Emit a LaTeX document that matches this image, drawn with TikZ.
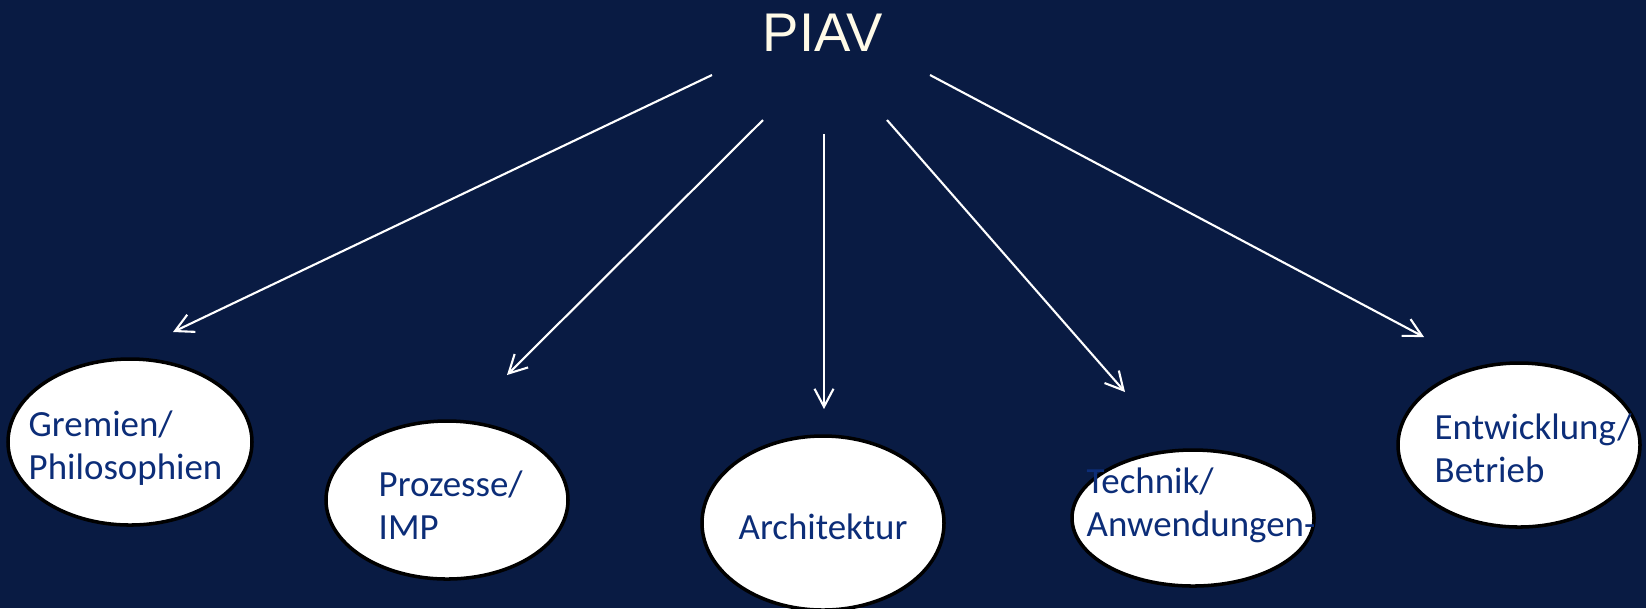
\documentclass[tikz,border=0pt]{standalone}
\usepackage{fontspec}
\setmainfont{Carlito}
\newfontfamily\piavfont{Liberation Sans}
\usetikzlibrary{shapes.geometric,arrows.meta,positioning,calc}

\definecolor{navybg}{RGB}{9,27,67}
\definecolor{labelblue}{RGB}{12,45,120}
\definecolor{piavcream}{RGB}{255,251,232}

\begin{document}
\begin{tikzpicture}[topic/.style={draw=black, line width=1pt, fill=white, ellipse, inner sep=0pt},
    label/.style={anchor=west, align=left, inner sep=0pt, text=labelblue, font=\fontsize{10.5}{12.3}\selectfont},
    arrow/.style={draw=white, line width=0.6pt, -{Straight Barb[length=1.8mm, width=1.9mm]}}]

        % background
        \fill [navybg] (0,0) rectangle (16.46,-6.08);
        \useasboundingbox (0,0) rectangle (16.46,-6.08);

        % PIAV
        \node (PIAV) at (8.23,-0.33) {\piavfont\fontsize{15.5}{18}\selectfont\color{piavcream}PIAV};

        % Gremien
        \node [topic, minimum width=2.44cm, minimum height=1.66cm] (Gremien) at (1.30,-4.42) {};
        \node [label] (Gremien_text) at (0.28,-4.48) {Gremien/\\Philosophien};

        % Prozesse
        \node [topic, minimum width=2.42cm, minimum height=1.58cm] (Prozesse) at (4.47,-5.00) {};
        \node [label] (Prozesse_text) at (3.78,-5.05) {Prozesse/\\IMP};

        % Architektur
        \node [topic, minimum width=2.42cm, minimum height=1.74cm] (Architektur) at (8.23,-5.23) {};
        \node [label] (Architektur_text) at (7.38,-5.27) {Architektur};

        % Technik
        \node [topic, minimum width=2.42cm, minimum height=1.36cm] (Technik) at (11.93,-5.18) {};
        \node [label] (Technik_text) at (10.86,-5.05) {Technik/\\Anwendungen-};

        % Entwicklung
        \node [topic, minimum width=2.42cm, minimum height=1.64cm] (Entwicklung) at (15.19,-4.45) {};
        \node [label] (Entwicklung_text) at (14.34,-4.48) {Entwicklung/\\Betrieb};

        % arrow ends
        \coordinate (PIAV_gremien) at (7.12,-0.75);
        \coordinate (Gremien_in) at (1.73,-3.32);
        \coordinate (PIAV_prozesse) at (7.63,-1.20);
        \coordinate (Prozesse_in) at (5.07,-3.75);
        \coordinate (PIAV_architektur) at (8.24,-1.34);
        \coordinate (Architektur_in) at (8.24,-4.09);
        \coordinate (PIAV_technik) at (8.87,-1.20);
        \coordinate (Technik_in) at (11.25,-3.92);
        \coordinate (PIAV_entwicklung) at (9.30,-0.75);
        \coordinate (Entwicklung_in) at (14.24,-3.37);

        % Arrows
        \draw [arrow] (PIAV_gremien) -- (Gremien_in);
        \draw [arrow] (PIAV_prozesse) -- (Prozesse_in);
        \draw [arrow] (PIAV_architektur) -- (Architektur_in);
        \draw [arrow] (PIAV_technik) -- (Technik_in);
        \draw [arrow] (PIAV_entwicklung) -- (Entwicklung_in);

    \end{tikzpicture}
\end{document}
